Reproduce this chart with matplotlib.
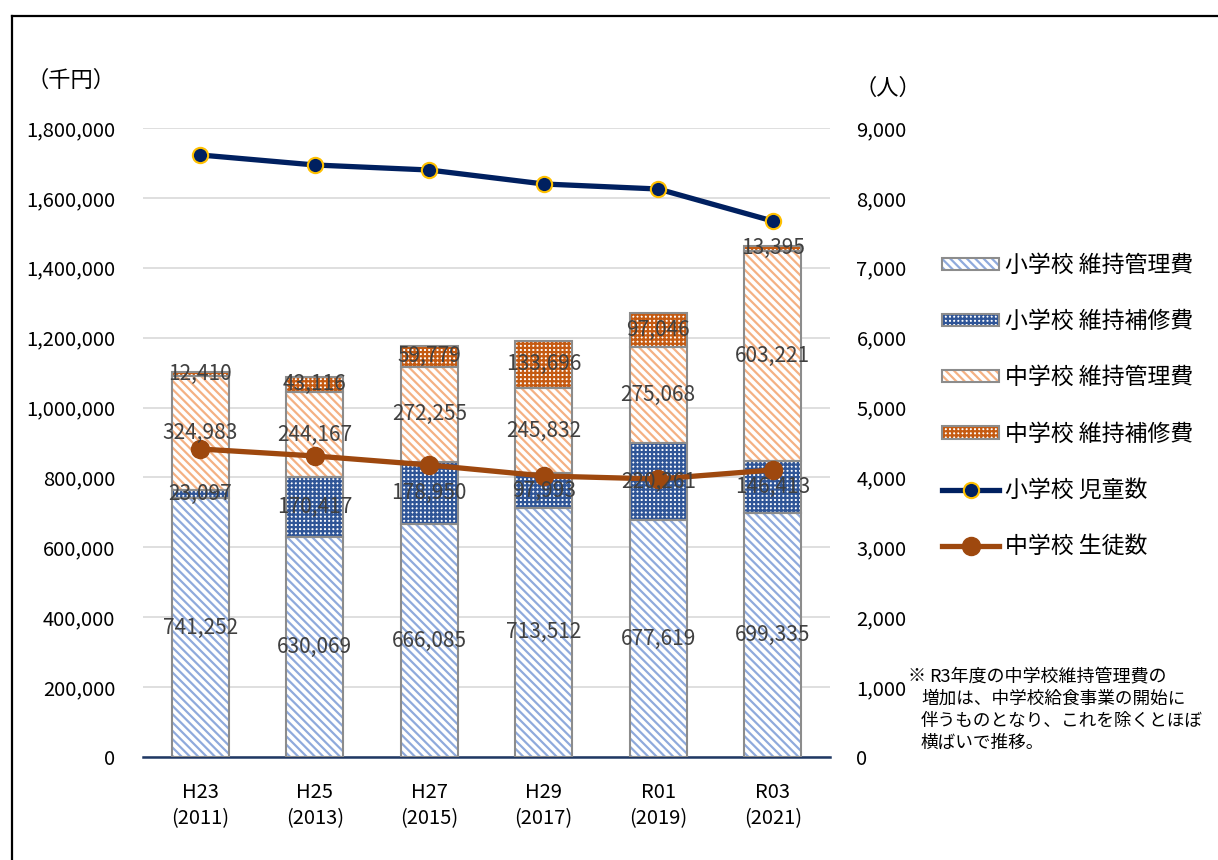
import matplotlib
matplotlib.use("Agg")
import matplotlib.pyplot as plt
from matplotlib.patches import Patch
from matplotlib.lines import Line2D
from matplotlib.ticker import FuncFormatter, MultipleLocator

plt.rcParams['font.family'] = ['Noto Sans CJK JP', 'DejaVu Sans']
plt.rcParams['hatch.linewidth'] = 1.6

# data
categories = ['H23\n(2011)', 'H25\n(2013)', 'H27\n(2015)', 'H29\n(2017)', 'R01\n(2019)', 'R03\n(2021)']
sho_iji = [741252, 630069, 666085, 713512, 677619, 699335]     # 小学校 維持管理費
sho_hoshu = [23097, 170417, 178950, 97993, 220261, 146413]     # 小学校 維持補修費
chu_iji = [324983, 244167, 272255, 245832, 275068, 603221]     # 中学校 維持管理費
chu_hoshu = [12410, 43116, 59779, 133696, 97046, 13395]        # 中学校 維持補修費
jido = [8614, 8471, 8399, 8199, 8127, 7669]                    # 小学校 児童数
seito = [4407, 4307, 4178, 4021, 3978, 4107]                   # 中学校 生徒数

bar_series = [
    ('小学校 維持管理費', sho_iji, 'white', '#8faadc', '\\\\\\\\'),
    ('小学校 維持補修費', sho_hoshu, 'white', '#2f5597', '++++'),
    ('中学校 維持管理費', chu_iji, 'white', '#f4b183', '\\\\\\\\'),
    ('中学校 維持補修費', chu_hoshu, 'white', '#c55a11', '++++'),
]
outline = '#8c8c8c'
label_color = '#404040'

fig = plt.figure(figsize=(12.18, 8.6), dpi=100)
ax = fig.add_axes([143 / 1218, 1 - 757 / 860, (830 - 143) / 1218, (757 - 128) / 860])
ax2 = ax.twinx()

x = list(range(len(categories)))
width = 0.5
bottom = [0] * len(x)
handles = []
labels_pos = []
for name, vals, face, hc, hatch in bar_series:
    ax.bar(x, vals, width, bottom=bottom, color=face, edgecolor=hc, hatch=hatch, linewidth=0, zorder=2)
    ax.bar(x, vals, width, bottom=bottom, fill=False, edgecolor=outline, linewidth=1.5, zorder=3)
    for i, v in enumerate(vals):
        labels_pos.append((i, bottom[i] + v / 2, v))
    bottom = [b + v for b, v in zip(bottom, vals)]
    handles.append((Patch(facecolor=face, edgecolor=hc, hatch=hatch, linewidth=0),
                    Patch(fill=False, edgecolor=outline, linewidth=1.5)))

ax.set_xlim(-0.5, len(x) - 0.5)
ax.set_ylim(0, 1800000)
ax.yaxis.set_major_locator(MultipleLocator(200000))
ax.yaxis.set_major_formatter(FuncFormatter(lambda v, p: f'{int(v):,}'))
ax.grid(axis='y', color='#d9d9d9', linewidth=1.2)
ax.set_axisbelow(True)
ax.set_xticks(x)
ax.set_xticklabels(categories, fontsize=14, linespacing=1.35)
ax.tick_params(axis='both', length=0, labelsize=14.5)
ax.tick_params(axis='y', pad=20)
ax.tick_params(axis='x', pad=18)
for s in ['top', 'left', 'right']:
    ax.spines[s].set_visible(False)
ax.spines['bottom'].set_color('#1f3864')
ax.spines['bottom'].set_linewidth(1.8)

l1, = ax2.plot(x, jido, color='#002060', linewidth=3.8, marker='o', markersize=11,
               markerfacecolor='#002060', markeredgecolor='#ffc000', markeredgewidth=1.5, zorder=4)
l2, = ax2.plot(x, seito, color='#9e480e', linewidth=3.8, marker='o', markersize=13,
               markerfacecolor='#9e480e', markeredgecolor='#9e480e', zorder=4)
ax2.set_ylim(0, 9000)
ax2.yaxis.set_major_locator(MultipleLocator(1000))
ax2.yaxis.set_major_formatter(FuncFormatter(lambda v, p: f'{int(v):,}'))
ax2.tick_params(axis='y', length=0, labelsize=14.5, pad=19)
for s in ['top', 'left', 'right', 'bottom']:
    ax2.spines[s].set_visible(False)

# data labels (drawn on top of lines)
for i, y, v in labels_pos:
    ax2.text(i, y, f'{v:,}', transform=ax.transData, ha='center', va='center',
             fontsize=15, color=label_color, zorder=6)

handles += [l1, l2]
names = [b[0] for b in bar_series] + ['小学校 児童数', '中学校 生徒数']
fig.legend(handles, names, loc='center left', bbox_to_anchor=(942 / 1218, 1 - 406 / 860),
           frameon=False, fontsize=16.5, handlelength=2.5, handleheight=0.45,
           handletextpad=0.25, labelspacing=1.45, borderpad=0, borderaxespad=0)

# unit labels
fig.text(26 / 1218, 1 - 80 / 860, '（千円）', fontsize=16, ha='left', va='center')
fig.text(854 / 1218, 1 - 88 / 860, '（人）', fontsize=16, ha='left', va='center')

# note
note_lines = ['増加は、中学校給食事業の開始に', '伴うものとなり、これを除くとほぼ', '横ばいで推移。']
fig.text(908 / 1218, 1 - 676 / 860, '※', fontsize=13, ha='left', va='center')
fig.text(929 / 1218, 1 - 677 / 860, 'R3年度の中学校維持管理費の', fontsize=13, ha='left', va='center')
for k, line in enumerate(note_lines):
    fig.text(921 / 1218, 1 - (699 + 22 * k) / 860, line, fontsize=12.7, ha='left', va='center')

# outer frame (cut off at right and bottom)
fig.add_artist(Line2D([12 / 1218, 1], [1 - 16 / 860, 1 - 16 / 860], color='black', linewidth=1.6))
fig.add_artist(Line2D([12 / 1218, 12 / 1218], [0, 1 - 16 / 860], color='black', linewidth=1.6))

fig.savefig('out.png', dpi=100)
